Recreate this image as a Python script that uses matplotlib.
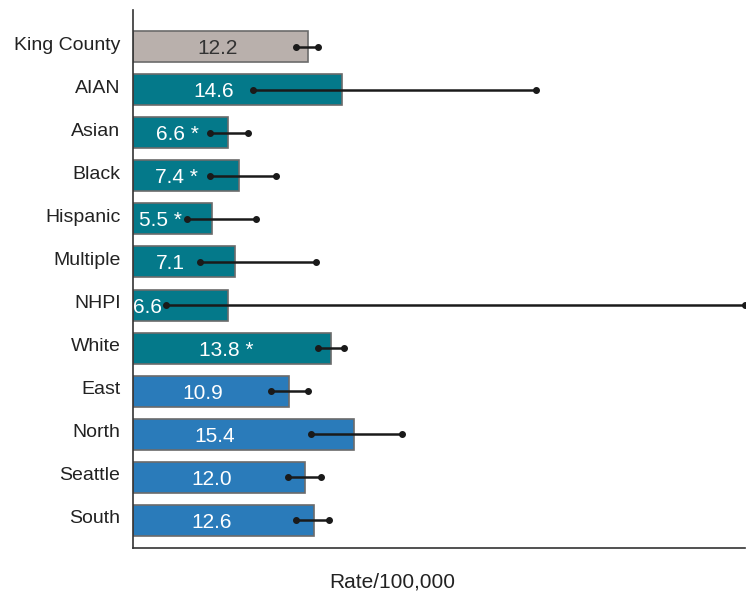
import matplotlib.pyplot as plt
import matplotlib.transforms as mtransforms
import numpy as np

groups = ['King County', 'AIAN', 'Asian', 'Black', 'Hispanic', 'Multiple',
          'NHPI', 'White', 'East', 'North', 'Seattle', 'South']
rates = [12.2, 14.6, 6.6, 7.4, 5.5, 7.1, 6.6, 13.8, 10.9, 15.4, 12.0, 12.6]
ci_low = [11.4, 8.4, 5.4, 5.4, 3.8, 4.7, 2.3, 12.9, 9.6, 12.4, 10.8, 11.4]
ci_high = [12.9, 28.1, 8.0, 10.0, 8.6, 12.8, 42.7, 14.7, 12.2, 18.8, 13.1, 13.7]
labels = ['12.2', '14.6', '6.6 *', '7.4 *', '5.5 *', '7.1',
          '6.6', '13.8 *', '10.9', '15.4', '12.0', '12.6']
kind = ['county'] + ['race'] * 7 + ['region'] * 4

# where the value text sits inside each bar (data units)
label_x = [5.9, 5.6, 3.1, 3.0, 1.9, 2.6, 1.0, 6.5, 4.9, 5.7, 5.5, 5.5]

colors = {'county': '#b9b0ac', 'race': '#04798a', 'region': '#2a7bba'}

plt.rcParams['font.family'] = ['Liberation Sans Narrow', 'Liberation Sans', 'DejaVu Sans']

fig = plt.figure(figsize=(7.53, 5.96), dpi=100)
ax = fig.add_axes([133/753, 1-548/596, (745-133)/753, (548-10)/596])

y = np.arange(len(groups))
ax.barh(y, rates, height=0.72, color=[colors[k] for k in kind],
        edgecolor='#6b6b6b', linewidth=1.2)

ax.hlines(y, ci_low, ci_high, color='#1a1a1a', linewidth=1.8, zorder=3)
ax.plot(ci_low, y, 'o', color='#1a1a1a', ms=4, zorder=4)
ax.plot(ci_high, y, 'o', color='#1a1a1a', ms=4, zorder=4)

for i, (lx, txt) in enumerate(zip(label_x, labels)):
    c = '#333333' if kind[i] == 'county' else 'white'
    ax.text(lx, i, txt, ha='center', va='center_baseline', color=c,
            fontsize=15, zorder=5)

ax.set_yticks(y)
ax.set_yticklabels(groups, fontsize=14, color='#222222')
ax.tick_params(axis='y', length=0, pad=9)
# names sit a little above the bar middles
shift = mtransforms.ScaledTranslation(0, 0.035, fig.dpi_scale_trans)
for lab in ax.get_yticklabels():
    lab.set_transform(lab.get_transform() + shift)
ax.set_xticks([])
ax.set_xlim(0, 42.7)
ax.set_ylim(11.64, -0.85)
for s in ['top', 'right']:
    ax.spines[s].set_visible(False)
for s in ['left', 'bottom']:
    ax.spines[s].set_color('#333333')
    ax.spines[s].set_linewidth(1.2)

fig.text(392/753, 1-582/596, 'Rate/100,000', ha='center', va='center',
         fontsize=15, color='#222222')

plt.savefig('out.png', dpi=100)
